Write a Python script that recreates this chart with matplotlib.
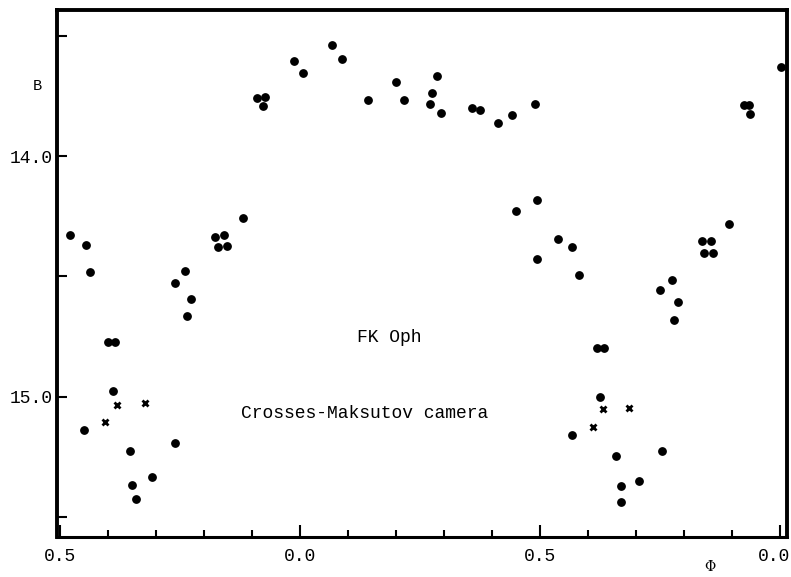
import numpy as np
import matplotlib
matplotlib.use("Agg")
import matplotlib.pyplot as plt
import matplotlib.transforms as mtransforms
from matplotlib.ticker import FixedLocator, FixedFormatter, MultipleLocator

# photographic B magnitudes of FK Oph against phase (plotted from -0.5 to 1.0)
dot_phase = [-0.478, -0.446, -0.437, -0.260, -0.239, -0.226, -0.235, -0.176, -0.158,
             -0.171, -0.151, -0.119, -0.089, -0.073, -0.076, -0.0125, 0.006, 0.067,
             0.088, 0.141, 0.200, 0.217, 0.286, 0.276, 0.271, 0.294, 0.358, 0.374,
             0.413, 0.442, 0.490, 1.001, 0.924, 0.936, 0.937, 0.493, 0.450, 0.537,
             0.566, 0.494, 0.582, 0.893, 0.837, 0.856, 0.842, 0.860, 0.775, 0.750,
             0.788, 0.780, -0.399, -0.385, -0.389, -0.449, -0.260, -0.354, -0.309,
             -0.350, -0.342, 0.618, 0.633, 0.624, 0.566, 0.658, 0.754, 0.707,
             0.669, 0.669]
dot_mag = [14.329, 14.371, 14.482, 14.529, 14.479, 14.592, 14.663, 14.335, 14.326,
           14.378, 14.372, 14.258, 13.755, 13.754, 13.790, 13.601, 13.654, 13.535,
           13.595, 13.767, 13.690, 13.767, 13.664, 13.736, 13.782, 13.818, 13.799,
           13.805, 13.860, 13.826, 13.782, 13.628, 13.786, 13.786, 13.824, 14.182,
           14.229, 14.342, 14.376, 14.428, 14.493, 14.282, 14.354, 14.354, 14.401,
           14.403, 14.515, 14.557, 14.608, 14.680, 14.775, 14.775, 14.975, 15.138,
           15.195, 15.228, 15.336, 15.367, 15.426, 14.799, 14.799, 15.000, 15.161,
           15.247, 15.228, 15.353, 15.374, 15.438]

# Maksutov camera points (crosses)
cross_phase = [-0.381, -0.322, -0.406, 0.632, 0.686, 0.610]
cross_mag = [15.035, 15.028, 15.108, 15.051, 15.047, 15.126]

xtick_pos = [-0.5, 0.0, 0.5, 1.0]
xtick_lab = ["0.5", "0.0", "0.5", "0.0"]
ytick_pos = [14.0, 15.0]
ytick_lab = ["14.0", "15.0"]

mono = "Liberation Mono"

fig = plt.figure(figsize=(7.91, 5.77), dpi=100)
ax = fig.add_axes([0.0721, 0.0694, 0.9229, 0.9133])

ax.plot(dot_phase, dot_mag, 'o', color='black', ms=5.3, mec='black')
ax.plot(cross_phase, cross_mag, 'x', color='black', ms=5, mew=2)

ax.set_xlim(-0.506, 1.0146)
ax.set_ylim(15.585, 13.39)

ax.xaxis.set_major_locator(FixedLocator(xtick_pos))
ax.xaxis.set_major_formatter(FixedFormatter(xtick_lab))
ax.xaxis.set_minor_locator(MultipleLocator(0.1))
ax.yaxis.set_major_locator(FixedLocator(ytick_pos))
ax.yaxis.set_major_formatter(FixedFormatter(ytick_lab))
ax.yaxis.set_minor_locator(MultipleLocator(0.5))

ax.tick_params(axis='both', which='both', direction='in', width=1.5, color='black')
ax.tick_params(axis='x', which='major', length=9, pad=8)
ax.tick_params(axis='x', which='minor', length=5)
ax.tick_params(axis='y', which='both', length=7, pad=3)
ax.tick_params(axis='both', which='major', labelsize=13)
for lab in ax.get_xticklabels() + ax.get_yticklabels():
    lab.set_fontfamily(mono)

# last label sits a little left of its tick so it stays on the page
shift = mtransforms.ScaledTranslation(-6 / 100, 0, fig.dpi_scale_trans)
last = ax.get_xticklabels()[-1]
last.set_transform(last.get_transform() + shift)

for side in ['left', 'top', 'bottom', 'right']:
    ax.spines[side].set_linewidth(2.8)
ax.spines['bottom'].set_linewidth(2.2)

fig.text(37 / 791, 1 - 86 / 577, "B", fontsize=11, family=mono, ha='center', va='center')
fig.text(710 / 791, 1 - 567 / 577, "\u03a6", fontsize=10, family='DejaVu Serif',
         ha='center', va='center')
ax.text(0.186, 14.755, "FK Oph", fontsize=13, family=mono, ha='center', va='center')
ax.text(0.135, 15.07, "Crosses-Maksutov camera", fontsize=13, family=mono,
        ha='center', va='center')

fig.savefig("out.png", dpi=100)
